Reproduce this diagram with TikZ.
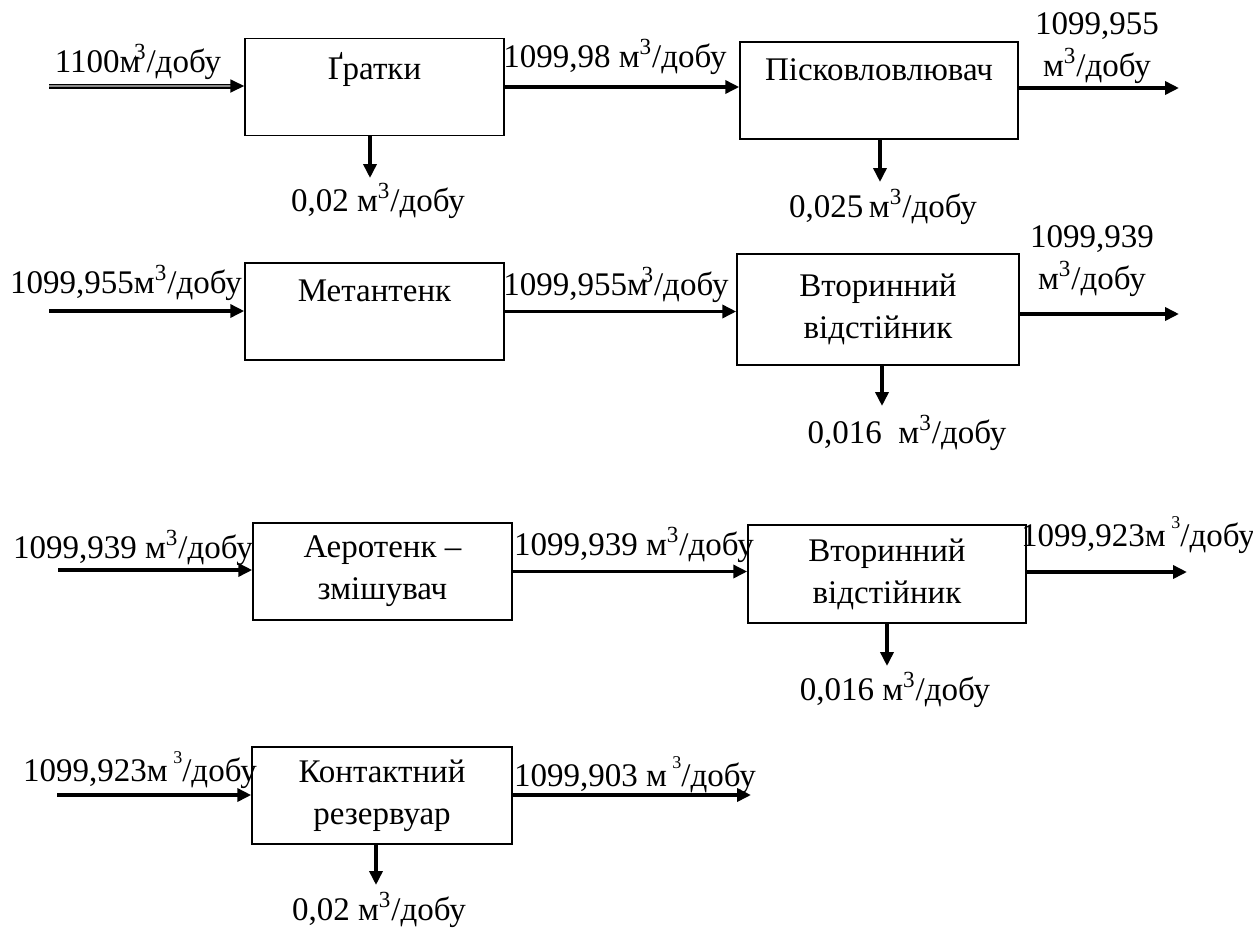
\documentclass[tikz,border=0pt]{standalone}
\usepackage{fontspec}
\setmainfont{Liberation Serif}
\usetikzlibrary{arrows.meta,positioning,calc}
\newcommand{\mkub}{м\textsuperscript{3}/добу}
\newcommand{\mkubhi}{м\,\raisebox{1.15ex}{\small 3}/добу}

\begin{document}
\begin{tikzpicture}[x=0.5pt,y=-0.5pt,
  every node/.style={font=\fontsize{16.5}{21}\selectfont,align=center,inner sep=0pt},
  box/.style={draw,line width=0.75pt,minimum height=48.5pt},
  flow/.style={-{Triangle[length=7pt,width=6.5pt]},line width=1.9pt},
  flowdbl/.style={flow,double=black!45,double distance=0.7pt,line width=0.9pt}]
\useasboundingbox (0,0) rectangle (1253,927);
% boxes
\node[box,minimum width=129.5pt] (grat) at (374.5,87) {Ґратки\\\mbox{}};
\node[box,minimum width=139pt] (pisk) at (879,90.5) {Пісковловлювач\\\mbox{}};
\node[box,minimum width=129.5pt] (metan) at (374.5,311.5) {Метантенк\\\mbox{}};
\node[box,minimum width=141pt,minimum height=55.5pt] (vtor1) at (878,309.5) {Вторинний\\відстійник};
\node[box,minimum width=129.5pt] (aero) at (382.5,571.5) {Аеротенк –\\змішувач};
\node[box,minimum width=139pt,minimum height=49pt] (vtor2) at (887,574) {Вторинний\\відстійник};
\node[box,minimum width=130pt] (kont) at (382,795.5) {Контактний\\резервуар};
% free ends
\coordinate (in1) at (49,86);   \coordinate (out1) at (1179,88);
\coordinate (d1) at (370,178);  \coordinate (d2) at (880,182);
\coordinate (in2) at (49,311);  \coordinate (out2) at (1179,314);
\coordinate (d3) at (882,406);
\coordinate (in3) at (58,570);  \coordinate (out3) at (1187,572);
\coordinate (d4) at (887,666);
\coordinate (in4) at (57,795);  \coordinate (out4) at (751,795);
\coordinate (d5) at (376,885);
% row 1
\draw[flowdbl] (in1) -- (in1 -| grat.west);
\draw[flow] (grat.east) -- (grat.east -| pisk.west);
\draw[flow] (out1 -| pisk.east) -- (out1);
\draw[flow] (d1 |- grat.south) -- (d1);
\draw[flow] (d2 |- pisk.south) -- (d2);
\node (lin1) at (138,62) {1100м\kern-0.2em\textsuperscript{3}/добу};
\node (lm1) at (615,57) {1099,98 \mkub};
\node (lout1) at (1097,48) {1099,955\\\mkub};
\node (ld1) at (378,201) {0,02 \mkub};
\node (ld2) at (883,207) {0,025\,\mkub};
% row 2
\draw[flow] (in2) -- (in2 -| metan.west);
\draw[flow] (metan.east) -- (metan.east -| vtor1.west);
\draw[flow] (out2 -| vtor1.east) -- (out2);
\draw[flow] (d3 |- vtor1.south) -- (d3);
\node (lin2) at (126,283) {1099,955\mkub};
\node (lm2) at (616,285) {1099,955м\kern-0.2em\textsuperscript{3}/добу};
\node (lout2) at (1092,261) {1099,939\\\mkub};
\node (ld3) at (907,433) {0,016 \ \mkub};
% row 3
\draw[flow] (in3) -- (in3 -| aero.west);
\draw[flow] (aero.east) -- (aero.east -| vtor2.west);
\draw[flow] (out3 -| vtor2.east) -- (out3);
\draw[flow] (d4 |- vtor2.south) -- (d4);
\node (lin3) at (133,548) {1099,939 \mkub};
\node (lm3) at (634,545) {1099,939 \mkub};
\node (lout3) at (1138,535) {1099,923\mkubhi};
\node (ld4) at (895,690) {0,016 \mkub};
% row 4
\draw[flow] (in4) -- (in4 -| kont.west);
\draw[flow] (out4 -| kont.east) -- (out4);
\draw[flow] (d5 |- kont.south) -- (d5);
\node (lin4) at (140,770) {1099,923\mkubhi};
\node (lout4) at (635,775) {1099,903 \mkubhi};
\node (ld5) at (379,910) {0,02 \mkub};
\end{tikzpicture}
\end{document}
